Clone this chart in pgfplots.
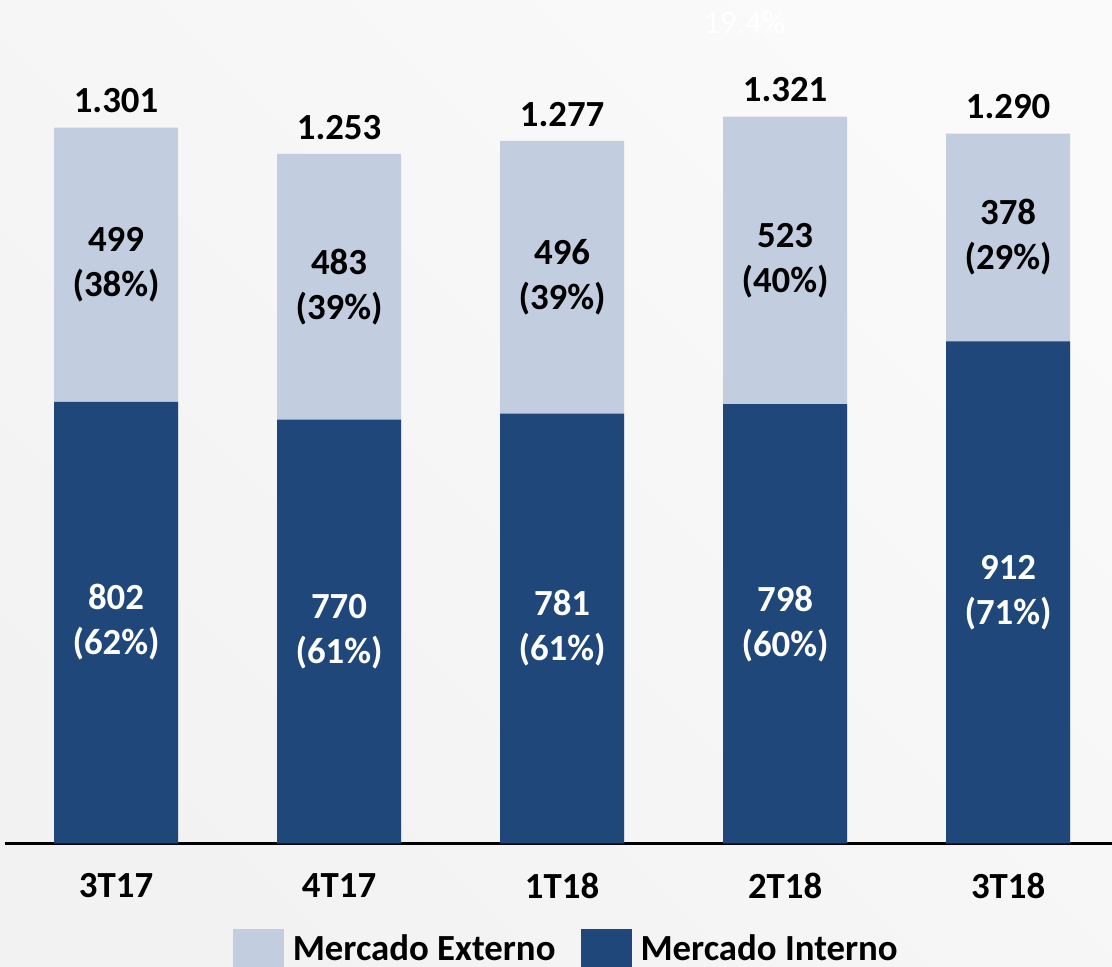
\documentclass[border=0pt]{standalone}
\usepackage{pgfplots}
\pgfplotsset{compat=1.18}
\usepackage{pgfplotstable}
\usepackage{fontspec}
\setmainfont{Carlito}
\definecolor{extc}{RGB}{195,205,224}
\definecolor{intc}{RGB}{31,71,122}
\newcommand\lbl{\fontsize{18.4}{22.5}\selectfont\bfseries}

\pgfplotstableread{
x int ext tot pint pext totlab
0 802 499 1301 62 38 1.301
1 770 483 1253 61 39 1.253
2 781 496 1277 61 39 1.277
3 798 523 1321 60 40 1.321
4 912 378 1290 71 29 1.290
}\data

\begin{document}
\begin{tikzpicture}
\path[use as bounding box, clip] (0pt,0pt) rectangle (556pt,483pt);
\shade[shading=axis, top color=black!2, bottom color=black!5, shading angle=-45] (0pt,0pt) rectangle (556pt,483pt);
\begin{axis}[
  at={(2.5pt,61.5pt)}, anchor=south west,
  scale only axis, width=553.5pt, height=421.5pt,
  xmin=-0.498, xmax=4.466, ymin=0, ymax=1533,
  axis x line=bottom, hide y axis,
  x axis line style={-, line width=1.5pt, black},
  xtick={0,1,2,3,4}, xticklabels={3T17,4T17,1T18,2T18,3T18},
  major tick length=0pt,
  /pgf/number format/assume math mode=true,
  xticklabel style={font=\lbl, anchor=north, inner sep=0pt, yshift=-15pt},
  clip=false,
  legend style={at={(0.2,0)}, anchor=north west, yshift=-41pt, draw=none, fill=none,
    font=\lbl, nodes={inner sep=0pt},
    /tikz/every odd column/.append style={column sep=4.5pt},
    /tikz/every even column/.append style={column sep=12.5pt}},
  legend columns=2, legend cell align=left,
]
\addplot[ybar, bar width=62pt, bar shift=0pt, fill=extc, draw=none,
  nodes near coords, point meta=explicit symbolic,
  every node near coord/.append style={font=\lbl, black, anchor=south, inner sep=0pt, yshift=7pt},
  legend image code/.code={\fill[extc] (0pt,-12pt) rectangle (25.5pt,9.9pt);}]
  table[x=x, y=tot, meta=totlab]{\data};
\addlegendentry{Mercado Externo}
\addplot[ybar, bar width=62pt, bar shift=0pt, fill=intc, draw=none,
  legend image code/.code={\fill[intc] (0pt,-12pt) rectangle (25.5pt,9.9pt);}]
  table[x=x, y=int]{\data};
\addlegendentry{Mercado Interno}
\addplot[forget plot, draw=none, mark=none,
  nodes near coords={\pgfmathprintnumber{\pgfplotspointmeta}\\(\pgfmathprintnumber[fixed,precision=0]{\pintv}\%)},
  point meta=\thisrow{int},
  visualization depends on={\thisrow{pint} \as \pintv},
  every node near coord/.append style={font=\lbl, white, anchor=center, align=center, inner sep=0pt}]
  table[x=x, y expr=\thisrow{int}/2]{\data};
\addplot[forget plot, draw=none, mark=none,
  nodes near coords={\pgfmathprintnumber{\pgfplotspointmeta}\\(\pgfmathprintnumber[fixed,precision=0]{\pextv}\%)},
  point meta=\thisrow{ext},
  visualization depends on={\thisrow{pext} \as \pextv},
  every node near coord/.append style={font=\lbl, black, anchor=center, align=center, inner sep=0pt}]
  table[x=x, y expr=\thisrow{int}+\thisrow{ext}/2]{\data};
\node[white, font=\fontsize{16.5}{18}\selectfont] at (rel axis cs:0.668,0.974) {19.4\%};
\end{axis}
\end{tikzpicture}
\end{document}
